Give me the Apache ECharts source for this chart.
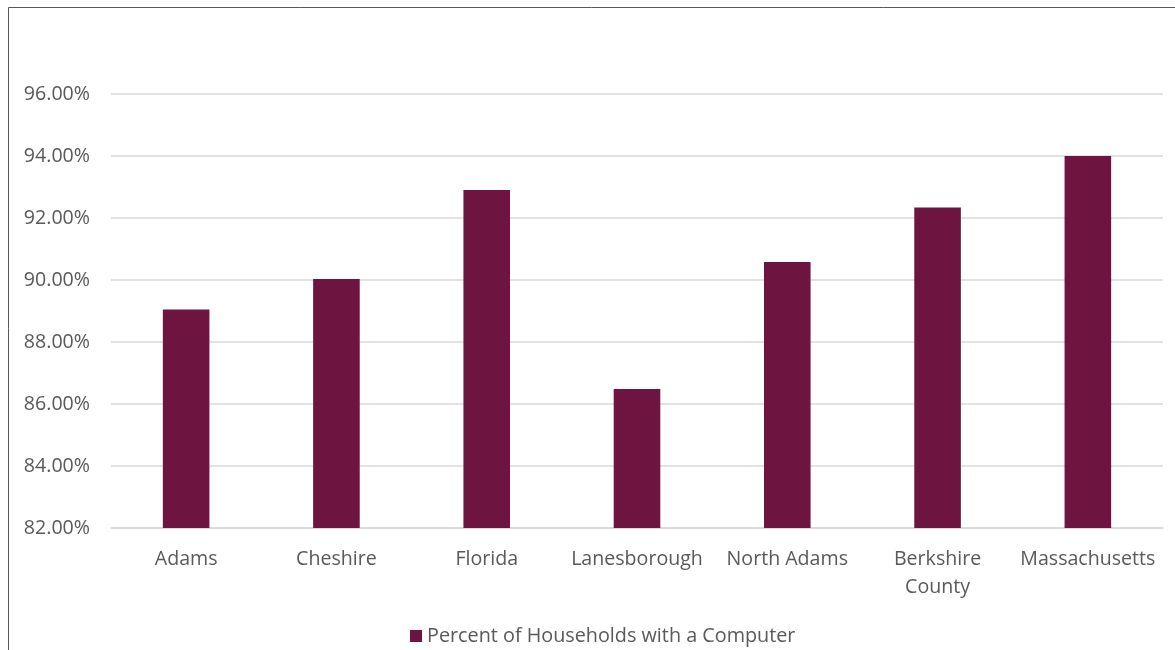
<!DOCTYPE html>
<html>
<head>
<meta charset="utf-8">
<script src="https://cdn.jsdelivr.net/npm/echarts@6/dist/echarts.min.js"></script>
<style>
html,body{margin:0;padding:0;background:#fff;}
#chart{width:1175px;height:650px;}
</style>
</head>
<body>
<div id="chart"></div>
<script>
const categories = ['Adams', 'Cheshire', 'Florida', 'Lanesborough', 'North Adams', 'Berkshire\nCounty', 'Massachusetts'];
const values = [89.05, 90.03, 92.9, 86.48, 90.58, 92.34, 94.0];
const seriesName = 'Percent of Households with a Computer';

const chart = echarts.init(document.getElementById('chart'));
const fontFamily = '"Open Sans", "Noto Sans", sans-serif';
chart.setOption({
  animation: false,
  textStyle: { fontFamily: fontFamily },
  graphic: [
    { type: 'line', shape: { x1: 8.5, y1: 7.5, x2: 8.5, y2: 650 }, style: { stroke: '#595959', lineWidth: 1 } },
    { type: 'line', shape: { x1: 8.5, y1: 7.5, x2: 1175, y2: 7.5 }, style: { stroke: '#595959', lineWidth: 1 } }
  ],
  grid: { left: 111, right: 12, top: 94, bottom: 122 },
  legend: {
    top: 621,
    left: 405,
    itemWidth: 12,
    itemHeight: 12,
    itemGap: 9,
    icon: 'rect',
    textStyle: { color: '#595959', fontSize: 19.8, fontFamily: fontFamily },
    data: [seriesName]
  },
  xAxis: {
    type: 'category',
    data: categories,
    axisLine: { show: true, lineStyle: { color: '#d9d9d9', width: 1.5 } },
    axisTick: { show: false },
    axisLabel: { color: '#595959', fontSize: 19.6, margin: 17, lineHeight: 28, fontFamily: fontFamily, interval: 0 }
  },
  yAxis: {
    type: 'value',
    min: 82,
    max: 96,
    interval: 2,
    axisLine: { show: false },
    axisTick: { show: false },
    splitLine: { lineStyle: { color: '#d9d9d9', width: 1.5 } },
    axisLabel: {
      color: '#595959', fontSize: 19.6, margin: 21, fontFamily: fontFamily,
      formatter: v => v.toFixed(2) + '%'
    }
  },
  series: [{
    name: seriesName,
    type: 'bar',
    data: values,
    barWidth: '31%',
    itemStyle: { color: '#6D1540' }
  }]
});
</script>
</body>
</html>
